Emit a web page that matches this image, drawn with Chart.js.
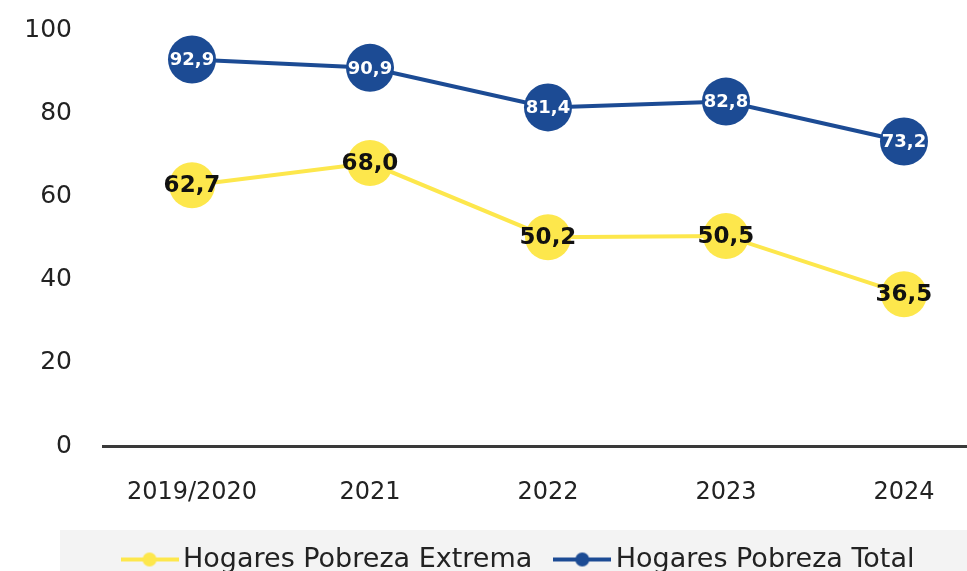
<!DOCTYPE html>
<html>
<head>
<meta charset="utf-8">
<script src="https://cdn.jsdelivr.net/npm/chart.js@4.4.1/dist/chart.umd.min.js"></script>
<style>
  html, body { margin: 0; padding: 0; background: #fff; overflow: hidden; }
  #wrap { width: 967px; height: 571px; }
</style>
</head>
<body>
<div id="wrap"><canvas id="myChart"></canvas></div>
<script>
// data
const years = ["2019/2020", "2021", "2022", "2023", "2024"];
const pobrezaExtrema = [62.7, 68.0, 50.2, 50.5, 36.5];
const pobrezaTotal = [92.9, 90.9, 81.4, 82.8, 73.2];
const yTicks = [0, 20, 40, 60, 80, 100];

const yellow = "#FDE74C";
const blue = "#1C4B94";
const fontName = "'DejaVu Sans', sans-serif";

function toPoints(values) {
	return values.map(function(v, i) { return { x: i, y: v }; });
}

// line + dot marker used in the legend
function legendMarker(color) {
	const c = document.createElement("canvas");
	c.width = 58; c.height = 16;
	const g = c.getContext("2d");
	g.strokeStyle = color;
	g.lineWidth = 4;
	g.beginPath(); g.moveTo(0, 8); g.lineTo(58, 8); g.stroke();
	g.fillStyle = color;
	g.beginPath(); g.arc(29, 8, 7, 0, Math.PI * 2); g.fill();
	return c;
}

// grey band behind the legend + nudge the legend row into place
const legendBand = {
	id: "legendBand",
	afterLayout(chart) {
		const lg = chart.legend;
		const w = lg.lineWidths[0];
		const left = 528 - w / 2 - lg.options.labels.padding + 9;
		lg.right = left + (lg.right - lg.left);
		lg.left = left;
		const dy = 516 - lg.top;
		lg.top += dy; lg.bottom += dy;
	},
	beforeDraw(chart) {
		const ctx = chart.ctx;
		ctx.save();
		ctx.fillStyle = "#fff";
		ctx.fillRect(0, 0, chart.width, chart.height);
		ctx.fillStyle = "#f3f3f3";
		ctx.fillRect(60, 530, chart.width - 60, chart.height - 530);
		ctx.restore();
	}
};

const valueLabels = {
	id: "valueLabels",
	afterDatasetsDraw(chart) {
		const ctx = chart.ctx;
		chart.data.datasets.forEach(function(ds, i) {
			const meta = chart.getDatasetMeta(i);
			ctx.save();
			ctx.font = "bold " + ds.labelSize + "px " + fontName;
			ctx.fillStyle = ds.labelColor;
			ctx.textAlign = "center";
			ctx.textBaseline = "middle";
			meta.data.forEach(function(pt, j) {
				const txt = ds.data[j].y.toFixed(1).replace(".", ",");
				ctx.fillText(txt, pt.x, pt.y + 1);
			});
			ctx.restore();
		});
	}
};

const ctx = document.getElementById("myChart").getContext("2d");
const lineChart = new Chart(ctx, {
	type: "line",
	data: {
		datasets: [
			{
				label: "Hogares Pobreza Extrema",
				data: toPoints(pobrezaExtrema),
				borderColor: yellow,
				backgroundColor: yellow,
				pointBackgroundColor: yellow,
				pointBorderWidth: 0,
				pointRadius: 23,
				borderWidth: 4,
				labelColor: "#111",
				labelSize: 23
			},
			{
				label: "Hogares Pobreza Total",
				data: toPoints(pobrezaTotal),
				borderColor: blue,
				backgroundColor: blue,
				pointBackgroundColor: blue,
				pointBorderWidth: 0,
				pointRadius: 24,
				borderWidth: 4,
				labelColor: "#fff",
				labelSize: 18
			}
		]
	},
	options: {
		responsive: true,
		maintainAspectRatio: false,
		animation: false,
		clip: false,
		layout: { autoPadding: false, padding: { top: 30, right: 0, left: 0, bottom: 0 } },
		scales: {
			x: {
				type: "linear",
				min: -0.5,
				max: 4.354,
				afterFit: function(s) {
					s.height = 58;
					s.paddingLeft = 0; s.paddingRight = 0;
				},
				afterBuildTicks: function(s) {
					s.ticks = years.map(function(y, i) { return { value: i }; });
				},
				grid: { display: false, drawTicks: false },
				border: { display: true, color: "#3a3a3a", width: 3 },
				ticks: {
					padding: 32,
					color: "#222",
					font: { family: fontName, size: 24 },
					callback: function(v) { return years[v]; }
				}
			},
			y: {
				min: 0,
				max: 100,
				afterFit: function(s) {
					s.width = 103;
					s.paddingTop = 0; s.paddingBottom = 0;
				},
				afterBuildTicks: function(s) {
					s.ticks = yTicks.map(function(v) { return { value: v }; });
				},
				grid: { display: false, drawTicks: false },
				border: { display: false },
				ticks: {
					padding: 31,
					color: "#222",
					font: { family: fontName, size: 25 }
				}
			}
		},
		plugins: {
			tooltip: { enabled: false },
			legend: {
				position: "bottom",
				align: "start",
				labels: {
					usePointStyle: true,
					pointStyleWidth: 40,
					boxHeight: 16,
					padding: 30,
					color: "#222",
					font: { family: fontName, size: 27 },
					generateLabels: function(chart) {
						const items = Chart.defaults.plugins.legend.labels.generateLabels(chart);
						items.forEach(function(it, i) {
							it.pointStyle = legendMarker(chart.data.datasets[i].borderColor);
						});
						return items;
					}
				}
			}
		}
	},
	plugins: [legendBand, valueLabels]
});
</script>
</body>
</html>
